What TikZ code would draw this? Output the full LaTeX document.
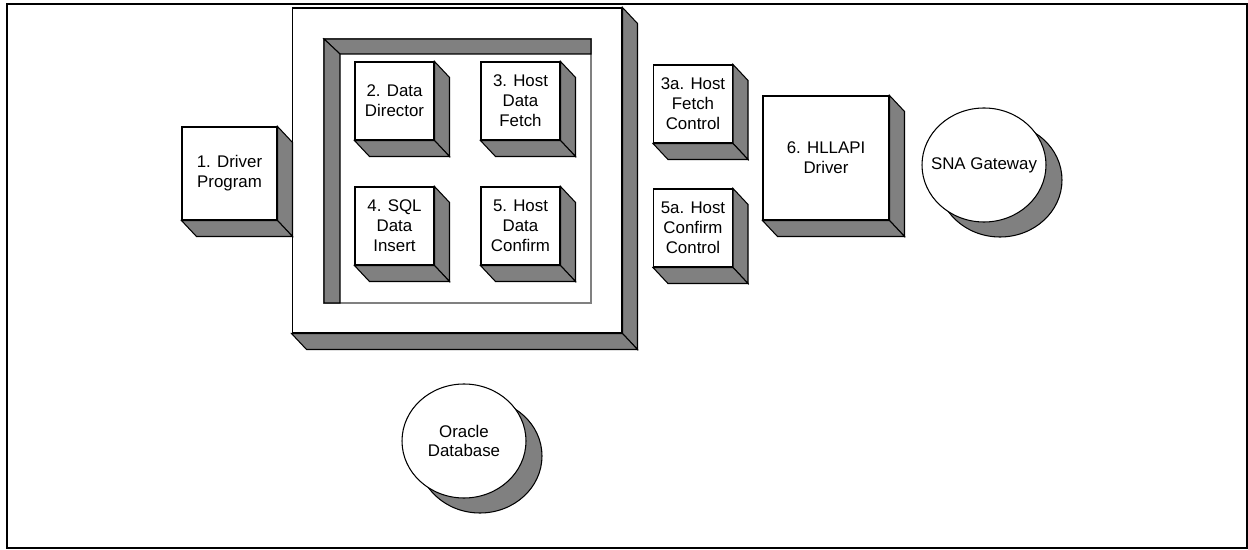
\documentclass[tikz,border=0pt]{standalone}
\usepackage{fontspec}
\setmainfont{Liberation Sans}
\usetikzlibrary{calc}
\definecolor{shadegray}{RGB}{128,128,128}

\begin{document}
\begin{tikzpicture}[x=0.02cm,y=-0.02cm,
        block/.style={draw=black,rectangle,fill=white,line width=0.6pt,inner sep=0pt,align=center,font=\fontsize{9.6}{11.3}\selectfont},
        small/.style={block,minimum width=1.58cm,minimum height=1.56cm},
        face/.style={draw=black,fill=shadegray,line width=0.6pt,line join=miter},
        disc/.style={draw=black,fill=white,line width=0.6pt},
        disctext/.style={inner sep=0pt,align=center,font=\fontsize{9.6}{11.3}\selectfont}
      ]
      \useasboundingbox (0,0) rectangle (1248,550);
      \draw[line width=1.6pt] (7,4) rectangle (1247,548);

      % outer container
      \node[block,minimum width=6.6cm,minimum height=6.5cm] (host) at (457,170.5) {};
      \filldraw[face] (host.north east) -- ++(15,16) -- ([shift={(15,16)}]host.south east) -- (host.south east) -- cycle;
      \filldraw[face] (host.south west) -- (host.south east) -- ++(15,16) -- ([shift={(15,16)}]host.south west) -- cycle;

      % recessed panel
      \draw[shadegray,line width=0.6pt] (324,39) rectangle (591,303);
      \filldraw[face] (324,39) -- (591,39) -- (591,54) -- (340,54) -- cycle;
      \filldraw[face] (324,39) -- (340,54) -- (340,303) -- (324,303) -- cycle;

      \node[block,minimum width=1.9cm,minimum height=1.86cm] (drv) at (229.5,173.5) {1. Driver\\Program};
      \node[small] (dir) at (394.5,101) {2. Data\\Director};
      \node[small] (fetch) at (520.5,101) {3. Host\\Data\\Fetch};
      \node[small] (ins) at (394.5,226) {4. SQL\\Data\\Insert};
      \node[small] (conf) at (520.5,226) {5. Host\\Data\\Confirm};
      \node[small] (fctl) at (693,104) {3a. Host\\Fetch\\Control};
      \node[small] (cctl) at (693,228) {5a. Host\\Confirm\\Control};
      \node[block,minimum width=2.52cm,minimum height=2.48cm] (hll) at (826,158) {6. HLLAPI\\Driver};

      \foreach \b in {drv,dir,fetch,ins,conf,fctl,cctl,hll}{
        \filldraw[face] (\b.north east) -- ++(15,16) -- ([shift={(15,16)}]\b.south east) -- (\b.south east) -- cycle;
        \filldraw[face] (\b.south west) -- (\b.south east) -- ++(15,16) -- ([shift={(15,16)}]\b.south west) -- cycle;
      }

      % round stores
      \coordinate (snac) at (984,165);
      \coordinate (orac) at (464,441);
      \foreach \c in {snac,orac}{
        \filldraw[face] ($(\c)+(16,15)$) ellipse [x radius=62, y radius=57];
        \filldraw[disc] (\c) ellipse [x radius=62, y radius=57];
      }
      \node[disctext] (sna) at (snac) {SNA Gateway};
      \node[disctext] (ora) at (orac) {Oracle\\Database};
    \end{tikzpicture}
\end{document}
